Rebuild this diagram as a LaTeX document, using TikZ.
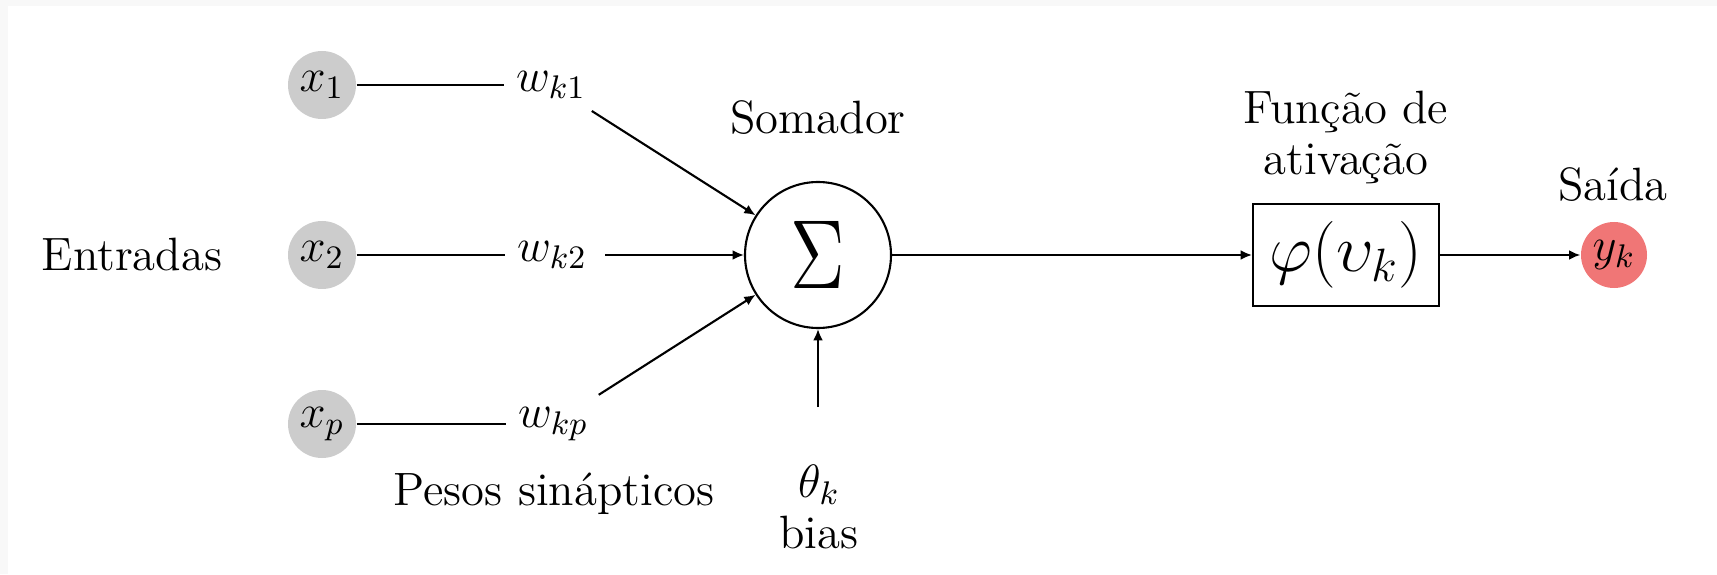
\RequirePackage{fix-cm}
\documentclass[tikz,border=0pt]{standalone}
\usepackage{graphicx}
\usetikzlibrary{arrows.meta}
\definecolor{saidared}{RGB}{240,118,118}
\definecolor{framegray}{RGB}{248,248,248}

\begin{document}
\begin{tikzpicture}[x=1cm,y=1cm,
  every node/.style={font=\fontsize{13.3}{14.5}\selectfont},
  entrada/.style={circle,fill=black!20,minimum size=0.68cm,inner sep=0pt},
  saida/.style={circle,fill=saidared,minimum size=0.66cm,inner sep=0pt},
  seta/.style={-{Latex[length=3.2pt,width=2.8pt]},line width=0.6pt},
  fio/.style={line width=0.6pt}]
  \fill[framegray] (0,0) rectangle (17.17,5.74);
  \fill[white] (0.08,0) rectangle (17.17,5.68);
  \useasboundingbox (0,0) rectangle (17.17,5.74);

  \node (entradas) at (1.32,3.19) {Entradas};
  \node[entrada] (x1) at (3.22,4.89) {$x_1$};
  \node[entrada] (x2) at (3.22,3.19) {$x_2$};
  \node[entrada] (xp) at (3.22,1.50) {$x_p$};
  \node (wk1) at (5.51,4.89) {$w_{k1}$};
  \node (wk2) at (5.52,3.19) {$w_{k2}$};
  \node (wkp) at (5.53,1.50) {$w_{kp}$};
  \node (pesos) at (5.54,0.80) {Pesos sinápticos};

  \node[draw,circle,line width=0.6pt,minimum size=1.46cm,inner sep=0pt] (sigma) at (8.18,3.19)
    {\scalebox{1.65}[2.1]{$\Sigma$}};
  \node (somador) at (8.18,4.56) {Somador};
  \node (theta) at (8.19,0.89) {$\theta_k$};
  \node (bias) at (8.19,0.41) {bias};
  \coordinate (biasin) at (8.18,1.67);

  \node[draw,line width=0.6pt,minimum width=1.86cm,minimum height=1.02cm,inner sep=0pt,
    font=\fontsize{19}{19}\selectfont] (phi) at (13.46,3.19) {$\varphi(\upsilon_k)$};
  \node[align=center] (funcao) at (13.46,4.37) {Função de\\ativação};
  \node (saidatxt) at (16.13,3.89) {Saída};
  \node[saida] (yk) at (16.14,3.19) {$y_k$};

  % pesos
  \draw[fio] (x1) -- (wk1);
  \draw[fio] (x2) -- (wk2);
  \draw[fio] (xp) -- (wkp);
  \draw[seta] (wk1) -- (sigma);
  \draw[seta,shorten <=0.06cm] (wk2) -- (sigma);
  \draw[seta] (wkp) -- (sigma);
  \draw[seta] (biasin) -- (sigma);

  \draw[seta] (sigma) -- (phi);
  \draw[seta] (phi) -- (yk);
\end{tikzpicture}
\end{document}
